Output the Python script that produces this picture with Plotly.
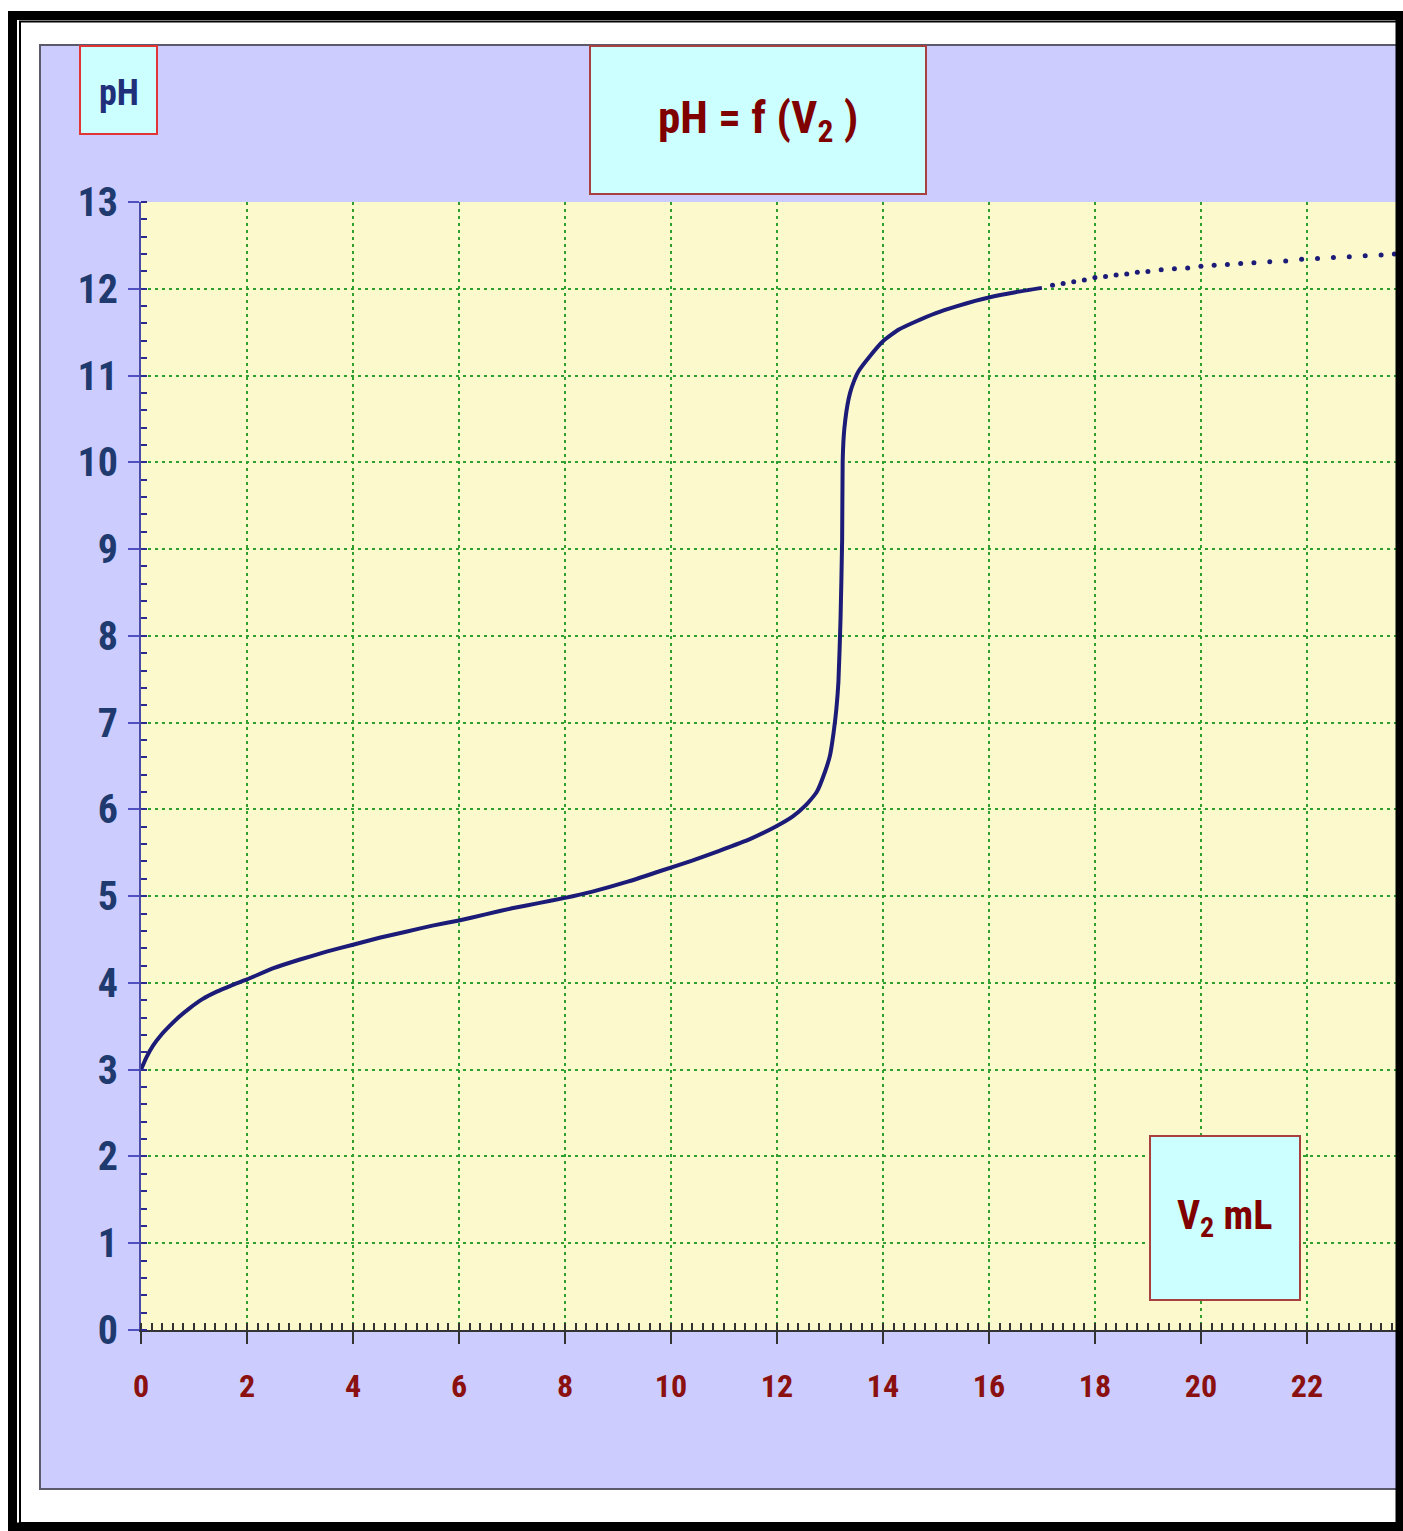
import plotly.graph_objects as go

# ---- data ----
v2_curve = [0, 0.1, 0.23, 0.38, 0.55, 0.72, 0.92, 1.15, 1.43, 1.7, 2.0, 2.5, 3.0, 3.5, 4.0,
            4.5, 5.0, 5.5, 6.0, 6.5, 7.0, 7.5, 8.0, 8.5, 9.2, 9.8, 10.4, 10.9, 11.5, 11.97,
            12.3, 12.53, 12.75, 12.91, 13.0, 13.07, 13.12, 13.16, 13.2, 13.23, 13.24, 13.26,
            13.29, 13.33, 13.38, 13.45, 13.54, 13.75, 14.01, 14.3, 14.61, 15.0, 15.4, 15.74,
            16.0, 16.5, 17.0]
ph_curve = [3.0, 3.14, 3.28, 3.40, 3.51, 3.61, 3.71, 3.81, 3.90, 3.97, 4.04, 4.17, 4.27, 4.36, 4.44,
            4.52, 4.59, 4.66, 4.72, 4.79, 4.86, 4.92, 4.98, 5.05, 5.17, 5.29, 5.41, 5.52, 5.66, 5.8,
            5.92, 6.04, 6.2, 6.44, 6.62, 6.89, 7.15, 7.47, 8.2, 9.1, 10.0, 10.3,
            10.49, 10.66, 10.8, 10.93, 11.05, 11.22, 11.4, 11.53, 11.62, 11.72, 11.80, 11.86,
            11.90, 11.96, 12.01]

v2_dots = [17.2, 17.4, 17.6, 17.8, 18.0, 18.2, 18.4, 18.6, 18.8, 19.0, 19.25, 19.5, 19.75, 20.0,
           20.25, 20.5, 20.75, 21.0, 21.3, 21.6, 21.9, 22.2, 22.5, 22.8, 23.1, 23.4, 23.65]
ph_dots = [12.04, 12.06, 12.08, 12.10, 12.13, 12.14, 12.16, 12.17, 12.19, 12.20, 12.22, 12.23,
           12.24, 12.26, 12.27, 12.28, 12.29, 12.30, 12.31, 12.32, 12.34, 12.35, 12.36, 12.37,
           12.38, 12.39, 12.40]

x_ticks = [0, 2, 4, 6, 8, 10, 12, 14, 16, 18, 20, 22]
y_ticks = list(range(0, 14))

title_text = "pH = f (V<sub>2</sub> )"
y_label = "pH"
x_label = "V<sub>2</sub> mL"

# ---- geometry helpers (pixel -> paper) ----
W, H = 1403, 1531
L, R, T, B = 141, 6, 202, 201
PW, PH = W - L - R, H - T - B


def px(x):
    return (x - L) / PW


def py(y):
    return (H - B - y) / PH


NARROW = "Liberation Sans Narrow, Arial Narrow, Roboto Condensed, Liberation Sans, sans-serif"
NAVY = "#1c1c78"
DARKRED = "#8b1010"
GRID = "#2f9f2f"

fig = go.Figure()
fig.add_trace(go.Scatter(x=v2_curve, y=ph_curve, mode="lines",
                         line=dict(color=NAVY, width=4, shape="spline", smoothing=0.5),
                         hoverinfo="skip", showlegend=False))
fig.add_trace(go.Scatter(x=v2_dots, y=ph_dots, mode="markers",
                         marker=dict(color=NAVY, size=5),
                         hoverinfo="skip", showlegend=False))

shapes = []
# lavender panel
shapes.append(dict(type="rect", xref="paper", yref="paper", layer="below",
                   x0=px(40), x1=px(1402), y0=py(1489), y1=py(45),
                   fillcolor="#ccccff", line=dict(color="#5a5a6a", width=2)))
# yellow plot area
shapes.append(dict(type="rect", xref="paper", yref="paper", layer="below",
                   x0=0, x1=1, y0=0, y1=1,
                   fillcolor="#fcfacd", line=dict(width=0)))
# outer black frame
shapes.append(dict(type="rect", xref="paper", yref="paper", layer="above",
                   x0=px(12.5), x1=px(1400), y0=py(1527), y1=py(15.5),
                   fillcolor="rgba(0,0,0,0)", line=dict(color="#000000", width=9)))
shapes.append(dict(type="rect", xref="paper", yref="paper", layer="above",
                   x0=px(20), x1=px(1397), y0=py(1523), y1=py(21.5),
                   fillcolor="rgba(0,0,0,0)", line=dict(color="#000000", width=2)))
# label boxes
boxes = [
    (80, 157, 46, 134, "#e03535"),
    (590, 926, 46, 194, "#a84040"),
    (1150, 1300, 1136, 1300, "#a84040"),
]
for x0, x1, y0, y1, lc in boxes:
    shapes.append(dict(type="rect", xref="paper", yref="paper", layer="above",
                       x0=px(x0), x1=px(x1), y0=py(y1), y1=py(y0),
                       fillcolor="#ccffff", line=dict(color=lc, width=2)))

annotations = [
    dict(text=y_label, x=px(118.5), y=py(93), xref="paper", yref="paper", showarrow=False,
         xanchor="center", yanchor="middle",
         font=dict(family=NARROW, size=36, color="#1f2f7a", weight="bold")),
    dict(text=title_text, x=px(758), y=py(121), xref="paper", yref="paper", showarrow=False,
         xanchor="center", yanchor="middle",
         font=dict(family=NARROW, size=45, color="#800000", weight="bold")),
    dict(text=x_label, x=px(1224), y=py(1218), xref="paper", yref="paper", showarrow=False,
         xanchor="center", yanchor="middle",
         font=dict(family=NARROW, size=40, color="#800000", weight="bold")),
]

fig.update_layout(
    width=W, height=H,
    margin=dict(l=L, r=R, t=T, b=B, pad=0),
    paper_bgcolor="#ffffff",
    plot_bgcolor="#fcfacd",
    shapes=shapes,
    annotations=annotations,
    showlegend=False,
)

fig.update_xaxes(
    range=[0, 23.7], tickvals=x_ticks, ticktext=[str(v) for v in x_ticks],
    showgrid=True, gridcolor=GRID, griddash="3px,4px", gridwidth=2,
    zeroline=False, showline=True, linecolor="#333333", linewidth=2,
    ticks="outside", ticklen=12, tickwidth=2, tickcolor="#333333",
    ticklabelstandoff=15,
    tickfont=dict(family=NARROW, size=32, color=DARKRED, weight="bold"),
    minor=dict(dtick=0.2, tick0=0, ticks="inside", ticklen=7, tickwidth=1.5,
               tickcolor="#333333", showgrid=False),
)
fig.update_yaxes(
    range=[0, 13], tickvals=y_ticks, ticktext=[str(v) for v in y_ticks],
    showgrid=True, gridcolor=GRID, griddash="3px,4px", gridwidth=2,
    zeroline=False, showline=True, linecolor="#4a4aa8", linewidth=2,
    ticks="outside", ticklen=11, tickwidth=2, tickcolor="#5050c0",
    ticklabelstandoff=2,
    tickfont=dict(family=NARROW, size=40, color="#1f3a6e", weight="bold"),
    minor=dict(dtick=0.2, tick0=0, ticks="inside", ticklen=6, tickwidth=1.5,
               tickcolor="#2a2a90", showgrid=False),
)

fig.write_html("out.html", config={"displayModeBar": False},
               post_script="document.body.style.margin='0px';")
